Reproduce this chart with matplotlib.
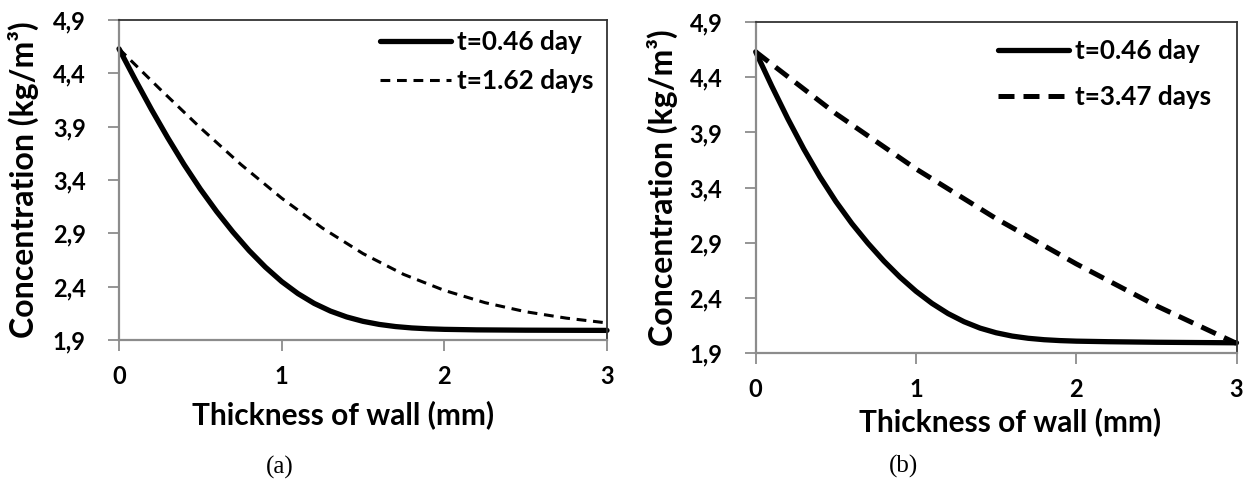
import matplotlib
matplotlib.use("Agg")
import matplotlib.pyplot as plt

# ---------------- data ----------------
x_a_solid = [0, 0.1, 0.2, 0.3, 0.4, 0.5, 0.6, 0.7, 0.8, 0.9, 1.0, 1.1, 1.2, 1.3, 1.4, 1.5,
             1.6, 1.7, 1.8, 1.9, 2.0, 2.2, 2.5, 3.0]
c_a_046 = [4.63, 4.34, 4.06, 3.795, 3.545, 3.315, 3.105, 2.913, 2.738, 2.583, 2.448, 2.335,
           2.243, 2.171, 2.116, 2.075, 2.046, 2.026, 2.013, 2.005, 2.0, 1.995, 1.992, 1.99]
x_a_dash = [0, 0.25, 0.5, 0.75, 1.0, 1.25, 1.5, 1.75, 2.0, 2.25, 2.5, 2.75, 3.0]
c_a_162 = [4.63, 4.255, 3.89, 3.545, 3.23, 2.95, 2.71, 2.515, 2.365, 2.25, 2.165, 2.105, 2.06]

x_b_solid = [0, 0.1, 0.2, 0.3, 0.4, 0.5, 0.6, 0.7, 0.8, 0.9, 1.0, 1.1, 1.2, 1.3, 1.4, 1.5,
             1.6, 1.7, 1.8, 1.9, 2.0, 2.2, 2.5, 2.8, 3.0]
c_b_046 = [4.63, 4.32, 4.025, 3.75, 3.50, 3.275, 3.075, 2.897, 2.735, 2.59, 2.462, 2.352,
           2.26, 2.186, 2.128, 2.086, 2.056, 2.036, 2.023, 2.015, 2.01, 2.005, 2.0, 1.997, 1.995]
x_b_dash = [0, 0.5, 1.0, 1.5, 2.0, 2.5, 3.0]
c_b_347 = [4.63, 4.07, 3.57, 3.12, 2.71, 2.33, 1.99]

x_ticks = [0, 1, 2, 3]
x_ticklabels = ["0", "1", "2", "3"]
y_ticks = [1.9, 2.4, 2.9, 3.4, 3.9, 4.4, 4.9]
y_ticklabels = ["1,9", "2,4", "2,9", "3,4", "3,9", "4,4", "4,9"]

labels_a = ["t=0.46 day", "t=1.62 days"]
labels_b = ["t=0.46 day", "t=3.47 days"]
xlabel = "Thickness of wall (mm)"
ylabel = "Concentration (kg/m\u00b3)"
captions = ["(a)", "(b)"]

# ---------------- figure ----------------
W, H = 1254, 484
fig = plt.figure(figsize=(W / 100, H / 100), dpi=100)

FONT = ["Lato", "DejaVu Sans"]


def px_axes(x0, y0, x1, y1):
    return fig.add_axes([x0 / W, 1 - y1 / H, (x1 - x0) / W, (y1 - y0) / H])


def style(ax, xlab_pos, ylab_pos):
    ax.set_xlim(0, 3)
    ax.set_ylim(1.9, 4.9)
    ax.set_xticks(x_ticks)
    ax.set_xticklabels(x_ticklabels, family=FONT, fontweight="bold", fontsize=17)
    ax.set_yticks(y_ticks)
    ax.set_yticklabels(y_ticklabels, family=FONT, fontweight="bold", fontsize=17)
    ax.tick_params(axis="both", direction="out", length=8, width=1.3, color="#8c8c8c")
    ax.tick_params(axis="y", pad=16)
    ax.tick_params(axis="x", pad=10)
    for s in ["left", "bottom"]:
        ax.spines[s].set_color("#8c8c8c")
        ax.spines[s].set_linewidth(1.6)
    for s in ["top", "right"]:
        ax.spines[s].set_color("#333333")
        ax.spines[s].set_linewidth(1.3)
    ax.set_xlabel(xlabel, family=FONT, fontweight="bold", fontsize=21.5)
    ax.xaxis.set_label_coords(*xlab_pos)
    ax.xaxis.label.set_va("center")
    ax.set_ylabel(ylabel, family=FONT, fontweight="bold", fontsize=23)
    ax.yaxis.set_label_coords(*ylab_pos)
    ax.yaxis.label.set_va("center")


LEG_PROP = {"family": FONT, "weight": "bold", "size": 18.8}

# panel (a)
ax1 = px_axes(119, 20, 607, 340)
ax1.plot(x_a_solid, c_a_046, color="black", lw=3.8, solid_capstyle="round",
         solid_joinstyle="round", label=labels_a[0], clip_on=False)
ax1.plot(x_a_dash, c_a_162, color="black", lw=2.2, dashes=(3.2, 2.2), label=labels_a[1], clip_on=False)
style(ax1, (0.459, -0.234), (-0.195, 0.5))
ax1.legend(loc="upper left", bbox_to_anchor=(380 / W, 1 - 30 / H), bbox_transform=fig.transFigure,
           frameon=False, borderpad=0, borderaxespad=0, handlelength=2.7, handletextpad=0.25,
           labelspacing=0.58, prop=LEG_PROP)

# panel (b)
ax2 = px_axes(755.7, 22, 1236.5, 353.3)
ax2.plot(x_b_solid, c_b_046, color="black", lw=3.8, solid_capstyle="round",
         solid_joinstyle="round", label=labels_b[0], clip_on=False)
ax2.plot(x_b_dash, c_b_347, color="black", lw=3.6, dashes=(3.2, 1.8), label=labels_b[1], clip_on=False)
style(ax2, (0.529, -0.206), (-0.195, 0.5))
ax2.legend(loc="upper left", bbox_to_anchor=(998 / W, 1 - 39 / H), bbox_transform=fig.transFigure,
           frameon=False, borderpad=0, borderaxespad=0, handlelength=2.7, handletextpad=0.25,
           labelspacing=0.84, prop=LEG_PROP)

fig.text(280 / W, 1 - 467 / H, captions[0], family=["Liberation Serif"], fontsize=18, ha="center", va="center")
fig.text(903 / W, 1 - 466 / H, captions[1], family=["Liberation Serif"], fontsize=18, ha="center", va="center")

fig.savefig("out.png", dpi=100, facecolor="white")
